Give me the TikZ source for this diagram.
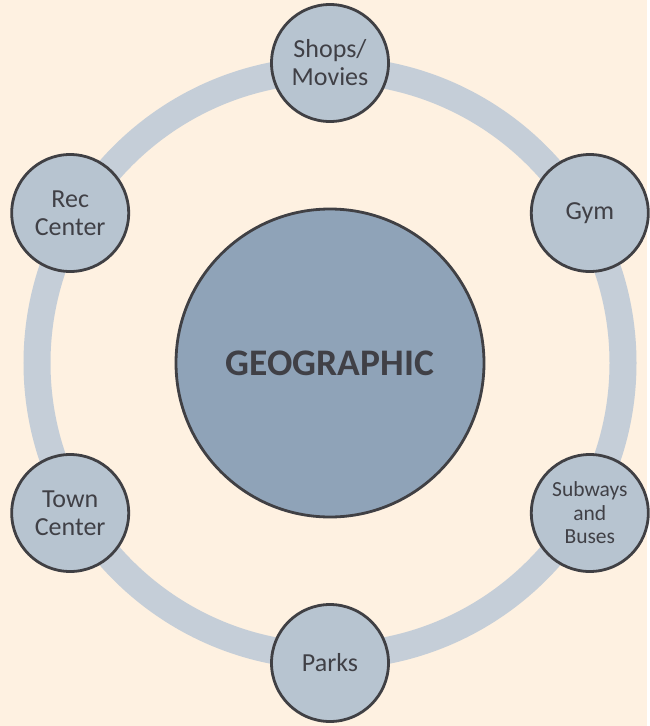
\documentclass[tikz,border=0pt]{standalone}
\usepackage{fontspec}
\setmainfont{Carlito}
\usetikzlibrary{calc}
\definecolor{paper}{RGB}{254,241,225}
\definecolor{ringcol}{RGB}{197,206,216}
\definecolor{spotfill}{RGB}{183,196,208}
\definecolor{hubfill}{RGB}{143,163,184}
\definecolor{edge}{RGB}{64,64,68}
\definecolor{ink}{RGB}{64,64,70}
\begin{document}
\begin{tikzpicture}[x=1pt,y=1pt,
  hub/.style={circle, draw=edge, line width=2.8pt, fill=hubfill, minimum size=308pt,
    inner sep=0pt, text=ink, font=\bfseries\fontsize{37.5}{40}\selectfont},
  spot/.style={circle, draw=edge, line width=2.8pt, fill=spotfill, minimum size=117pt,
    inner sep=0pt, align=center, text=ink, font=\fontsize{26}{28}\selectfont},
  small/.style={font=\fontsize{21.5}{23.5}\selectfont}]
\fill[paper] (0,0) rectangle (647,-726);
\coordinate (mid) at (330,-363);
\draw[ringcol, line width=27pt] (mid) circle[radius=293];
\node[hub] (geo) at (mid) {GEOGRAPHIC};
\foreach \ang/\name/\lbl in {90/shops/{Shops/\\Movies}, 30/gym/Gym, 150/rec/{Rec\\Center},
    210/town/{Town\\Center}, 270/parks/Parks} {
  \node[spot] (\name) at ($(mid)+(\ang:300)$) {\lbl};
}
\node[spot, small] (subways) at ($(mid)+(-30:300)$) {Subways\\and\\Buses};
\end{tikzpicture}
\end{document}
